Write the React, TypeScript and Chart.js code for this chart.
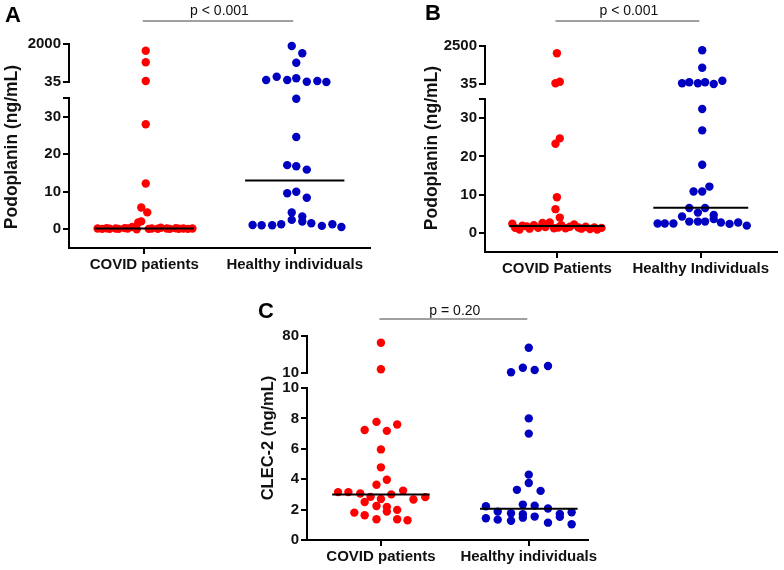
import React, { useEffect, useRef } from 'react';
import { Chart, registerables } from 'chart.js';

Chart.register(...registerables);

const FONT = 'Arial, "Liberation Sans", Helvetica, sans-serif';
const RED = '#ff0000';
const BLUE = '#0000c0';

// ---------- Panel A ----------
const A_CATEGORIES = ['COVID patients', 'Healthy individuals'];
const A_COVID_VALUES = [1654, 1054, 87, 28.0, 12.2, 5.8, 4.5, 2.1, 1.8, 0.2, 0.1, 0.25, 0.15, 0.2, 0.1, 0.3, 0.2, 0.6, 0.0, 0.1, 0.2, 0.15, 0.4, 0.2, 0.1, 0.25, 0.15, 0.2, 0.1, 0.2];
const A_COVID_JITTER = [0.01, 0.01, 0.01, 0.01, 0.01, -0.02, 0.02, -0.02, -0.04, -0.31, -0.28, -0.25, -0.23, -0.19, -0.17, -0.13, -0.11, -0.08, -0.05, 0.03, 0.05, 0.09, 0.11, 0.15, 0.17, 0.21, 0.23, 0.26, 0.29, 0.32];
const A_HEALTHY_VALUES = [1897, 1519, 1033, 138, 310, 138, 226, 50, 87, 36, 34.8, 24.6, 17.1, 16.8, 15.9, 9.6, 10.0, 8.4, 1.15, 1.07, 1.07, 1.33, 4.45, 2.5, 3.4, 2.05, 1.6, 0.9, 1.33, 0.6];
const A_HEALTHY_JITTER = [-0.02, 0.05, 0.01, -0.19, -0.12, -0.05, 0.01, 0.08, 0.15, 0.21, 0.01, 0.01, -0.05, 0.01, 0.08, -0.05, 0.01, 0.08, -0.28, -0.22, -0.15, -0.09, -0.02, -0.02, 0.05, 0.05, 0.11, 0.18, 0.25, 0.31];
const A_MEDIANS = [0.2, 13];
const A_LOW_TICKS = [0, 10, 20, 30, 35];
const A_HIGH_TICKS = [35, 2000];

// ---------- Panel B ----------
const B_CATEGORIES = ['COVID Patients', 'Healthy Individuals'];
const B_COVID_VALUES = [2026, 80, 184, 23.3, 24.7, 9.3, 6.2, 4.0, 2.4, 1.3, 0.9, 1.9, 1.7, 1.1, 2.0, 1.3, 2.6, 1.5, 2.7, 1.2, 1.4, 2.0, 1.2, 1.6, 2.2, 1.4, 1.1, 1.6, 1.0, 1.4, 0.9, 1.3];
const B_COVID_JITTER = [0.0, -0.01, 0.02, -0.01, 0.02, 0.0, -0.01, 0.02, -0.31, -0.29, -0.26, -0.24, -0.21, -0.19, -0.16, -0.13, -0.10, -0.08, -0.05, -0.02, 0.01, 0.03, 0.06, 0.09, 0.12, 0.15, 0.17, 0.20, 0.23, 0.26, 0.28, 0.31];
const B_HEALTHY_VALUES = [2221, 1092, 80, 145, 80, 145, 36, 249, 32.4, 26.8, 17.8, 10.8, 10.8, 12.1, 6.5, 5.3, 6.5, 4.3, 4.7, 3.6, 2.45, 2.45, 2.45, 2.95, 2.95, 2.95, 2.7, 2.35, 2.7, 1.9];
const B_HEALTHY_JITTER = [0.01, 0.01, -0.13, -0.08, -0.02, 0.03, 0.09, 0.15, 0.01, 0.01, 0.01, -0.05, 0.01, 0.06, -0.08, -0.02, 0.03, -0.13, 0.09, 0.09, -0.30, -0.25, -0.19, -0.08, -0.02, 0.03, 0.14, 0.20, 0.26, 0.32];
const B_MEDIANS = [1.8, 6.6];
const B_LOW_TICKS = [0, 10, 20, 30, 35];
const B_HIGH_TICKS = [35, 2500];

// ---------- Panel C ----------
const C_CATEGORIES = ['COVID patients', 'Healthy individuals'];
const C_COVID_VALUES = [67.3, 17, 7.77, 7.6, 7.24, 7.18, 5.96, 4.78, 3.63, 3.96, 3.15, 3.15, 3.06, 2.84, 2.7, 3.0, 3.25, 2.66, 2.82, 2.5, 2.24, 2.18, 1.98, 1.87, 1.8, 1.63, 1.37, 1.37, 1.3];
const C_COVID_JITTER = [0, 0, -0.03, 0.11, -0.11, 0.04, 0, 0, -0.03, 0.04, -0.29, -0.22, -0.14, -0.07, 0, 0.07, 0.15, 0.22, 0.30, -0.11, -0.03, 0.04, 0.11, 0.04, -0.18, -0.11, -0.03, 0.11, 0.18];
const C_HEALTHY_VALUES = [57.9, 11.3, 20, 15.7, 23.2, 8.0, 7.0, 4.3, 3.75, 3.3, 3.23, 2.22, 2.33, 2.26, 2.07, 1.87, 1.76, 1.7, 1.72, 1.83, 1.43, 1.34, 1.27, 1.47, 1.54, 1.14, 1.52, 1.04];
const C_HEALTHY_JITTER = [0, -0.12, -0.04, 0.04, 0.13, 0, 0, 0, 0, -0.08, 0.08, -0.29, -0.04, 0.04, 0.13, -0.21, -0.12, -0.04, 0.21, 0.29, -0.29, -0.21, -0.12, -0.04, 0.04, 0.13, 0.21, 0.29];
const C_MEDIANS = [3.0, 2.05];
const C_LOW_TICKS = [0, 2, 4, 6, 8, 10];
const C_HIGH_TICKS = [10, 80];

type Group = { values: number[]; jitter: number[]; color: string };
type Panel = {
  letter: string; categories: string[]; yTitle: string; pText: string;
  groups: Group[]; medians: number[];
  lowTicks: number[]; highTicks: number[]; breakAt: number; labelCap: boolean;
  lowMin: number; lowMax: number; highMin: number; highMax: number;
  xMax: number;
  left: number; top: number; w: number; h: number;
  padTop: number; padRight: number; yWidth: number; xHeight: number;
  lowWeight: number; highWeight: number;
  letterX: number; letterY: number; titleX: number; titleY: number; titleSize: number;
  pTextY: number; bracketY: number;
};

const PANELS: Panel[] = [
  {
    letter: 'A', categories: A_CATEGORIES, yTitle: 'Podoplanin (ng/mL)', pText: 'p < 0.001',
    groups: [
      { values: A_COVID_VALUES, jitter: A_COVID_JITTER, color: RED },
      { values: A_HEALTHY_VALUES, jitter: A_HEALTHY_JITTER, color: BLUE },
    ],
    medians: A_MEDIANS, lowTicks: A_LOW_TICKS, highTicks: A_HIGH_TICKS, breakAt: 35, labelCap: false,
    lowMin: -5, lowMax: 35, highMin: -792, highMax: 2000, xMax: 2.5,
    left: 0, top: 0, w: 392, h: 280, padTop: 44, padRight: 22, yWidth: 69, xHeight: 32,
    lowWeight: 150, highWeight: 54,
    letterX: 5, letterY: 22, titleX: 12, titleY: 147, titleSize: 17.5, pTextY: 15, bracketY: 21,
  },
  {
    letter: 'B', categories: B_CATEGORIES, yTitle: 'Podoplanin (ng/mL)', pText: 'p < 0.001',
    groups: [
      { values: B_COVID_VALUES, jitter: B_COVID_JITTER, color: RED },
      { values: B_HEALTHY_VALUES, jitter: B_HEALTHY_JITTER, color: BLUE },
    ],
    medians: B_MEDIANS, lowTicks: B_LOW_TICKS, highTicks: B_HIGH_TICKS, breakAt: 35, labelCap: false,
    lowMin: -5, lowMax: 35, highMin: -938, highMax: 2500, xMax: 2.53,
    left: 392, top: 0, w: 392, h: 280, padTop: 46, padRight: 7, yWidth: 93, xHeight: 28,
    lowWeight: 153, highWeight: 53,
    letterX: 33, letterY: 20, titleX: 40, titleY: 148, titleSize: 17.5, pTextY: 15, bracketY: 21,
  },
  {
    letter: 'C', categories: C_CATEGORIES, yTitle: 'CLEC-2 (ng/mL)', pText: 'p = 0.20',
    groups: [
      { values: C_COVID_VALUES, jitter: C_COVID_JITTER, color: RED },
      { values: C_HEALTHY_VALUES, jitter: C_HEALTHY_JITTER, color: BLUE },
    ],
    medians: C_MEDIANS, lowTicks: C_LOW_TICKS, highTicks: C_HIGH_TICKS, breakAt: 10, labelCap: true,
    lowMin: 0, lowMax: 10, highMin: -18.4, highMax: 80, xMax: 2.4,
    left: 200, top: 280, w: 400, h: 290, padTop: 56, padRight: 2, yWidth: 107, xHeight: 30,
    lowWeight: 152, highWeight: 52,
    letterX: 58, letterY: 38, titleX: 68, titleY: 158, titleSize: 16.5, pTextY: 35, bracketY: 39,
  },
];

const MEDIAN_HALF = 0.33;

function buildDatasets(p: Panel) {
  const ds: any[] = [];
  p.groups.forEach((g, gi) => {
    const low: any[] = [];
    const high: any[] = [];
    g.values.forEach((v, i) => {
      const pt = { x: gi + 1 + g.jitter[i], y: v };
      (v > p.breakAt ? high : low).push(pt);
    });
    const style = {
      backgroundColor: g.color, borderColor: g.color, borderWidth: 0,
      pointRadius: 4.2, pointHoverRadius: 4.2, clip: false, order: 1,
    };
    ds.push({ data: low, yAxisID: 'yLow', ...style });
    ds.push({ data: high, yAxisID: 'yHigh', ...style });
  });
  p.medians.forEach((m, gi) => {
    ds.push({
      data: [{ x: gi + 1 - MEDIAN_HALF, y: m }, { x: gi + 1 + MEDIAN_HALF, y: m }],
      yAxisID: 'yLow', showLine: true, borderColor: '#000', borderWidth: 2,
      pointRadius: 0, clip: false, order: 0,
    });
  });
  return ds;
}

function makeDecor(p: Panel) {
  return {
    id: 'decor' + p.letter,
    afterDraw(chart: any) {
      const ctx = chart.ctx;
      const hi = chart.scales.yHigh;
      const lo = chart.scales.yLow;
      const xs = chart.scales.x;
      const ax = lo.right;
      ctx.save();
      // upper axis segment
      ctx.strokeStyle = '#000';
      ctx.lineWidth = 2;
      ctx.beginPath();
      ctx.moveTo(ax, hi.getPixelForValue(p.highTicks[p.highTicks.length - 1]) - 1);
      ctx.lineTo(ax, hi.getPixelForValue(p.highTicks[0]) + 1);
      ctx.stroke();
      // significance bracket
      ctx.strokeStyle = '#808080';
      ctx.lineWidth = 1.5;
      ctx.beginPath();
      ctx.moveTo(xs.getPixelForValue(0.99), p.bracketY);
      ctx.lineTo(xs.getPixelForValue(1.99), p.bracketY);
      ctx.stroke();
      ctx.fillStyle = '#111';
      ctx.font = `14px ${FONT}`;
      ctx.textAlign = 'center';
      ctx.textBaseline = 'alphabetic';
      ctx.fillText(p.pText, (xs.getPixelForValue(1) + xs.getPixelForValue(2)) / 2, p.pTextY);
      // panel letter
      ctx.font = `bold 22px ${FONT}`;
      ctx.textAlign = 'left';
      ctx.fillStyle = '#000';
      ctx.fillText(p.letter, p.letterX, p.letterY);
      // y title
      ctx.translate(p.titleX, p.titleY);
      ctx.rotate(-Math.PI / 2);
      ctx.font = `bold ${p.titleSize}px ${FONT}`;
      ctx.textAlign = 'center';
      ctx.textBaseline = 'middle';
      ctx.fillStyle = '#111';
      ctx.fillText(p.yTitle, 0, 0);
      ctx.restore();
    },
  };
}

function PanelChart({ p }: { p: Panel }) {
  const ref = useRef<HTMLCanvasElement | null>(null);
  useEffect(() => {
    if (!ref.current) return;
    const tickFont = { family: FONT, size: 15, weight: 'bold' as const };
    const grid = { display: true, drawOnChartArea: false, drawTicks: true, tickLength: 6, color: '#000', lineWidth: 2 };
    const chart = new Chart(ref.current, {
      type: 'scatter',
      data: { datasets: buildDatasets(p) },
      options: {
        responsive: false,
        animation: false,
        devicePixelRatio: 1,
        events: [],
        layout: { padding: { top: p.padTop, right: p.padRight, left: 0, bottom: 0 } },
        plugins: { legend: { display: false }, tooltip: { enabled: false }, title: { display: false } },
        scales: {
          x: {
            type: 'linear', min: 0.5, max: p.xMax,
            afterBuildTicks: (s: any) => { s.ticks = [{ value: 1 }, { value: 2 }]; },
            afterFit: (s: any) => { s.height = p.xHeight; },
            ticks: {
              callback: (v: any) => p.categories[Math.round(v) - 1] ?? '',
              font: tickFont, color: '#111', padding: 2, maxRotation: 0, autoSkip: false,
            },
            grid, border: { display: true, color: '#000', width: 2 },
          },
          yLow: {
            type: 'linear', position: 'left', stack: 'y', stackWeight: p.lowWeight,
            min: p.lowMin, max: p.lowMax,
            afterBuildTicks: (s: any) => { s.ticks = p.lowTicks.map((v) => ({ value: v })); },
            afterFit: (s: any) => { s.width = p.yWidth; },
            ticks: {
              callback: (v: any) => (v === p.breakAt && !p.labelCap ? '' : String(v)),
              font: tickFont, color: '#111', padding: 2, autoSkip: false,
            },
            grid, border: { display: true, color: '#000', width: 2 },
          },
          yHigh: {
            type: 'linear', position: 'left', stack: 'y', stackWeight: p.highWeight,
            min: p.highMin, max: p.highMax,
            afterBuildTicks: (s: any) => { s.ticks = p.highTicks.map((v) => ({ value: v })); },
            afterFit: (s: any) => { s.width = p.yWidth; },
            ticks: { callback: (v: any) => String(v), font: tickFont, color: '#111', padding: 2, autoSkip: false },
            grid, border: { display: false },
          },
        },
      } as any,
      plugins: [makeDecor(p)],
    });
    return () => chart.destroy();
  }, [p]);
  return (
    <canvas
      ref={ref}
      width={p.w}
      height={p.h}
      style={{ position: 'absolute', left: p.left, top: p.top, width: p.w, height: p.h }}
    />
  );
}

export default function App() {
  return (
    <div style={{ position: 'absolute', left: 0, top: 0, width: 784, height: 570, background: '#fff', overflow: 'hidden' }}>
      {PANELS.map((p) => (
        <PanelChart key={p.letter} p={p} />
      ))}
    </div>
  );
}
